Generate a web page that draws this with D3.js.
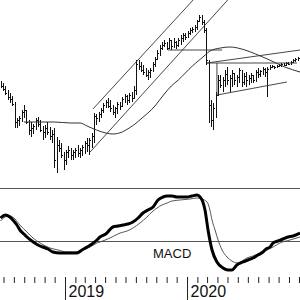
<!DOCTYPE html>
<html>
<head>
<meta charset="utf-8">
<script src="https://cdn.jsdelivr.net/npm/d3@7"></script>
<style>
  body { margin: 0; background: #fff; }
  svg { display: block; }
</style>
</head>
<body>
<div id="chart"></div>
<script>

// weekly bars, week 0 = Fri 22 Jun 2018
var firstWeek = new Date(2018, 5, 22);
var lastWeek = 128;

var high = [219,217,214,210,207,204,198,182,184,190,
  195,190,180,178,176,182,183,180,174,175,
  178,173,170,172,163,160,157,148,150,154,
  152,150,152,155,152,155,159,162,162,167,
  187,186,188,192,197,200,202,200,195,193,
  198,198,203,206,205,207,208,214,240,240,
  238,235,232,230,232,238,243,250,255,258,
  260,258,262,260,262,259,262,265,267,267,
  269,272,273,275,280,285,285,280,272,240,
  200,197,208,225,225,223,230,233,225,230,
  227,225,232,230,227,228,225,227,225,230,
  232,230,233,232,233,235,235,234,235,236,
  237,237,238,238,239,241,242,243,244];

var low = [212,209,205,200,197,194,172,172,174,178,
  182,176,165,163,166,170,173,168,160,162,
  165,160,157,132,127,148,142,130,135,142,
  140,140,142,143,142,144,146,148,145,152,
  157,175,178,182,187,192,192,188,185,182,
  186,190,193,197,195,197,198,202,205,230,
  228,225,223,220,222,228,233,240,244,250,
  253,250,252,250,252,251,253,255,258,260,
  263,265,267,268,270,278,275,267,235,177,
  173,170,182,205,212,208,213,215,208,213,
  215,213,217,213,215,213,215,217,217,218,
  222,223,225,223,203,230,232,231,232,233,
  233,234,234,235,235,237,238,239,240];

var open = [218,214,211,207,203,201,196,178,180,182,
  188,190,178,170,172,174,180,176,170,168,
  172,168,164,166,140,155,152,145,140,148,
  150,145,148,150,147,150,153,157,155,160,
  164,184,182,186,190,195,198,194,192,188,
  192,196,194,201,204,200,205,202,210,236,
  234,230,228,225,228,230,236,241,247,252,
  255,257,252,260,254,258,255,260,262,265,
  263,267,270,271,273,279,283,278,270,240,
  195,180,192,205,220,215,220,226,220,222,
  227,220,223,230,218,224,220,222,225,220,
  228,226,229,231,228,231,233,234,233,234,
  235,236,235,237,236,238,240,241,242];

var close = [214,211,207,203,201,196,178,180,182,188,
  190,178,170,172,174,180,176,170,168,172,
  168,164,166,140,155,152,145,140,148,150,
  145,148,150,147,150,153,157,155,160,164,
  184,182,186,190,195,198,194,192,188,192,
  196,194,201,204,200,205,202,210,236,234,
  230,228,225,228,230,236,241,247,252,255,
  257,252,260,254,258,255,260,262,265,263,
  267,270,271,273,279,283,278,270,240,195,
  180,192,205,220,215,220,226,220,222,227,
  220,223,230,218,224,220,222,225,220,228,
  226,229,231,228,231,233,234,233,234,235,
  236,235,237,236,238,240,241,242,243];

// moving average [week, value]
var movingAvg = [[10,178],[17,178],[23,178],[30,177],[34,177],[37,174],[41,170],
  [45,167],[48,166],[52,168],[55,172],[57.5,176],[60.5,182],[63,187],[66,194],
  [68,200],[70,206],[73,214],[76,220],[79,227],[82,234],[84.5,239],[87.5,245],
  [89.5,249],[94,252],[98,253],[104.5,250],[109,246],[115,240],[121.5,233],[128,228]];

// MACD and signal [week, value]
var macdLine = [[0,23],[2,26],[4,24],[5.3,21],[7,16],[8.3,11],[10,7],[11.3,4],[14,-1],
  [16,-4],[18,-6],[20.3,-8],[22.4,-11],[25.4,-12],[28.4,-12],[30.5,-12],[32.7,-12],
  [34.8,-9],[37,-6],[39.1,-3],[41.2,1],[42.5,4],[45,7],[48,14],[50.2,15],[52.4,16],
  [54.5,17],[56.6,19],[58.8,23],[60.9,28],[63,31],[65.2,34],[67.3,41],[69.4,44],
  [71.2,45],[73.3,45],[75.4,44],[77.6,44],[79.7,44],[81.8,45],[84,46],[85.3,44],
  [86.5,39],[87.4,31],[88.7,11],[90.4,-9],[92.5,-21],[95.1,-27],[97.2,-29],[98.9,-29],
  [101,-24],[103.6,-21],[105.8,-19],[107.9,-17],[110,-14],[112.2,-11],[113.5,-8],
  [115.2,-6],[116.5,-2],[118.6,0],[120.7,2],[122.9,4],[125,5],[128,8]];

var signalLine = [[0,20],[2,24],[4,25],[6.2,22],[8.3,16],[11.3,9],[13.9,3],[16.9,-2],
  [21.2,-7],[24.6,-9],[28.4,-11],[31.8,-11],[35.3,-9],[38.3,-6],[41.2,-2],[42.5,-1],
  [46.8,3],[51.1,8],[54.1,10],[56.6,13],[59.6,18],[62.6,24],[64.7,29],[66.9,33],
  [69,36],[71.2,38],[73.3,40],[76.7,41],[81,42],[84,43],[86.1,42],[88.3,39],[89.5,31],
  [90.4,21],[91.7,11],[93,1],[94.7,-9],[96.8,-16],[98.9,-20],[101.1,-22],[103.2,-20],
  [105.3,-17],[107.9,-15],[110.9,-12],[113.9,-9],[116.5,-6],[119.4,-2],[123.7,1],[128,4]];

// drawn trend lines, each [[week, value], [week, value]]
var trendLines = [
  [[39.5,191],[83.5,303]],
  [[38.3,148],[97.5,301]],
  [[71.6,250],[94.7,250]],
  [[88.2,237],[126.7,237]],
  [[88.2,237],[128,250]],
  [[92.5,205],[122.4,218]],
  [[92.5,237],[92.5,205]]
];

var macdLabel = 'MACD';

var chart_width = 300;
var chart_height = 300;

function weekDate(w) {
  return new Date(firstWeek.getTime() + w * 7 * 864e5);
}

var svg = d3.select('#chart')
  .append('svg')
  .attr('width', chart_width)
  .attr('height', chart_height)
  .style('background', '#fff');

var x_scale = d3.scaleTime()
  .domain([firstWeek, weekDate(lastWeek)])
  .range([0.5, 300]);

var y_price = d3.scaleLinear()
  .domain([110, 300])
  .range([190, 0]);

var y_macd = d3.scaleLinear()
  .domain([-35, 52])
  .range([276, 189]);

function px(w) { return Math.round(x_scale(weekDate(w))) + 0.5; }

// panel lines
svg.append('line')
  .attr('x1', 0).attr('x2', chart_width)
  .attr('y1', 188.5).attr('y2', 188.5)
  .attr('stroke', '#555').attr('stroke-width', 1);

svg.append('line')
  .attr('x1', 0).attr('x2', chart_width)
  .attr('y1', Math.round(y_macd(0)) + 0.5).attr('y2', Math.round(y_macd(0)) + 0.5)
  .attr('stroke', '#555').attr('stroke-width', 1);

// price bars
var bars = svg.append('g')
  .attr('stroke', '#111')
  .attr('stroke-width', 1)
  .attr('shape-rendering', 'crispEdges');

d3.range(high.length).forEach(function(i) {
  var x = px(i);
  bars.append('line')
    .attr('x1', x).attr('x2', x)
    .attr('y1', y_price(high[i])).attr('y2', y_price(low[i]));
  bars.append('line')
    .attr('x1', x - 1).attr('x2', x)
    .attr('y1', Math.round(y_price(open[i])) + 0.5).attr('y2', Math.round(y_price(open[i])) + 0.5);
  bars.append('line')
    .attr('x1', x).attr('x2', x + 1.5)
    .attr('y1', Math.round(y_price(close[i])) + 0.5).attr('y2', Math.round(y_price(close[i])) + 0.5);
});

// moving average
var priceLine = d3.line()
  .x(function(d) { return x_scale(weekDate(d[0])); })
  .y(function(d) { return y_price(d[1]); })
  .curve(d3.curveMonotoneX);

svg.append('path')
  .datum(movingAvg)
  .attr('d', priceLine)
  .attr('fill', 'none')
  .attr('stroke', '#333')
  .attr('stroke-width', 1);

// trend lines
var straight = d3.line()
  .x(function(d) { return x_scale(weekDate(d[0])); })
  .y(function(d) { return y_price(d[1]); });

svg.selectAll('path.trend')
  .data(trendLines)
  .enter()
  .append('path')
  .attr('class', 'trend')
  .attr('d', straight)
  .attr('fill', 'none')
  .attr('stroke', '#333')
  .attr('stroke-width', 0.9);

// macd panel
var macdPath = d3.line()
  .x(function(d) { return x_scale(weekDate(d[0])); })
  .y(function(d) { return y_macd(d[1]); })
  .curve(d3.curveMonotoneX);

svg.append('path')
  .datum(signalLine)
  .attr('d', macdPath)
  .attr('fill', 'none')
  .attr('stroke', '#444')
  .attr('stroke-width', 0.9);

svg.append('path')
  .datum(macdLine)
  .attr('d', macdPath)
  .attr('fill', 'none')
  .attr('stroke', '#000')
  .attr('stroke-width', 3)
  .attr('stroke-linejoin', 'round');

svg.append('text')
  .attr('x', 153)
  .attr('y', 257.5)
  .attr('font-family', 'Liberation Sans, Arial, sans-serif')
  .attr('font-size', 13)
  .attr('fill', '#111')
  .text(macdLabel);

// time axis: month ticks and longer year ticks
var month_axis = d3.axisBottom(x_scale)
  .ticks(d3.timeMonth.every(1))
  .tickSize(6)
  .tickFormat('');

var gm = svg.append('g')
  .attr('transform', 'translate(0,277)')
  .call(month_axis);
gm.select('.domain').remove();
gm.selectAll('line').attr('stroke', '#222');

var year_axis = d3.axisBottom(x_scale)
  .ticks(d3.timeYear.every(1))
  .tickSize(24)
  .tickFormat(d3.timeFormat('%Y'));

var gy = svg.append('g')
  .attr('transform', 'translate(0,277)')
  .call(year_axis);
gy.select('.domain').remove();
gy.selectAll('line').attr('stroke', '#222');
gy.selectAll('text')
  .attr('text-anchor', 'start')
  .attr('x', 3)
  .attr('y', 20)
  .attr('dy', 0)
  .attr('font-family', 'Liberation Sans, Arial, sans-serif')
  .attr('font-size', 16)
  .attr('fill', '#111');

</script>
</body>
</html>
